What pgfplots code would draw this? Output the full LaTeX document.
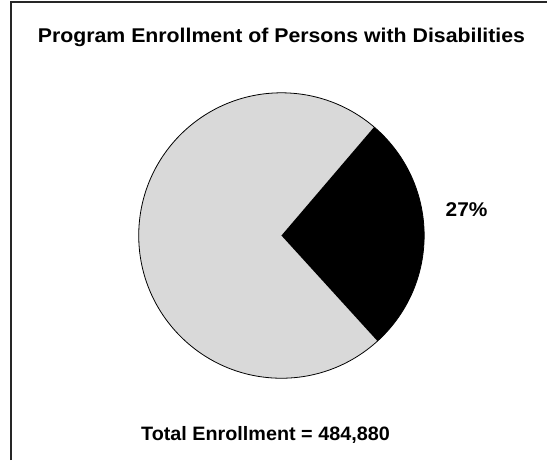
\documentclass[border=0pt]{standalone}
\usepackage{pgfplots}
\pgfplotsset{compat=1.18}
\usepackage{pgfplotstable}
\usepackage{fontspec}
\setmainfont{Liberation Sans}
\definecolor{piegrey}{RGB}{217,217,217}
\pgfplotstableread{
label value
Other 73
Disabilities 27
}\piedata
\begin{document}
\begin{tikzpicture}
\begin{axis}[
  scale only axis, width=548bp, height=461bp,
  xmin=0, xmax=548, ymin=0, ymax=461,
  hide axis, clip=false,
  /pgf/number format/assume math mode=true,
]
\path (axis cs:0,0) rectangle (axis cs:548,461);
\pgfplotstablegetelem{1}{value}\of\piedata
\pgfmathsetmacro{\share}{\pgfplotsretval}
\pgfmathsetmacro{\startang}{49.5}
\pgfmathsetmacro{\endang}{\startang-3.6*\share}
% grey slice
\fill[piegrey] (axis cs:282,225) -- ++(\startang:143bp) arc[start angle=\startang, end angle=\endang+360, radius=143bp] -- cycle;
% black slice
\fill[black] (axis cs:282,225) -- ++(\startang:143bp) arc[start angle=\startang, end angle=\endang, radius=143bp] -- cycle;
\draw[black, line width=0.8pt] (axis cs:282,225) circle[radius=143bp];
% frame
\draw[black!85, line width=2.2bp] (axis cs:11,0) -- (axis cs:11,459) -- (axis cs:548,459);
\node[anchor=base, xscale=1.07, font=\bfseries\fontsize{20}{24}\selectfont] at (axis cs:282,418) {Program Enrollment of Persons with Disabilities};
\node[anchor=base, xscale=1.05, font=\bfseries\fontsize{20}{24}\selectfont] at (axis cs:467.5,244) {\pgfmathprintnumber[fixed,precision=0]{\share}\%};
\node[anchor=base, xscale=1.02, font=\bfseries\fontsize{19.5}{24}\selectfont] at (axis cs:266,20) {Total Enrollment = 484,880};
\end{axis}
\end{tikzpicture}
\end{document}
